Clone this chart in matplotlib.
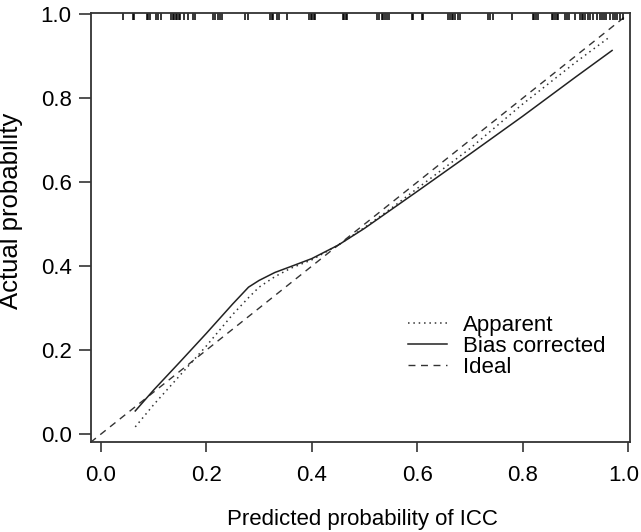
import matplotlib
matplotlib.use("Agg")
import matplotlib.pyplot as plt
import matplotlib.transforms as mtransforms

plt.rcParams['font.family'] = ['Liberation Sans', 'DejaVu Sans']

# apparent (dotted) calibration curve
app_x = [0.065, 0.10, 0.15, 0.20, 0.25, 0.28, 0.30, 0.33, 0.36, 0.40, 0.45, 0.50,
         0.55, 0.60, 0.70, 0.80, 0.90, 0.962]
app_y = [0.017, 0.07, 0.14, 0.21, 0.285, 0.325, 0.35, 0.375, 0.395, 0.415, 0.45, 0.492,
         0.537, 0.585, 0.68, 0.786, 0.885, 0.943]

# bias corrected (solid) curve
bc_x = [0.065, 0.10, 0.15, 0.20, 0.25, 0.28, 0.30, 0.33, 0.36, 0.40, 0.45, 0.50,
        0.55, 0.60, 0.70, 0.80, 0.90, 0.97]
bc_y = [0.055, 0.105, 0.172, 0.24, 0.31, 0.35, 0.366, 0.385, 0.399, 0.418, 0.45, 0.49,
        0.534, 0.578, 0.667, 0.757, 0.85, 0.914]

# ideal line
ideal = [-0.02, 1.0]

# rug of predicted probabilities (top of plot)
rug = [0.041, 0.061, 0.063, 0.087, 0.089, 0.093, 0.104, 0.108, 0.114,
       0.133, 0.136, 0.139, 0.142, 0.145, 0.148, 0.150, 0.157, 0.165, 0.175, 0.178,
       0.213, 0.216, 0.222, 0.226, 0.230, 0.273, 0.279, 0.321, 0.324, 0.326,
       0.334, 0.338, 0.353, 0.395, 0.398, 0.401, 0.404, 0.406,
       0.459, 0.461, 0.465, 0.467, 0.524, 0.527, 0.533, 0.535, 0.539, 0.543, 0.546,
       0.590, 0.592, 0.609, 0.611, 0.658, 0.662, 0.666, 0.668, 0.672, 0.677, 0.681,
       0.734, 0.738, 0.744, 0.780, 0.820, 0.822, 0.825, 0.829,
       0.856, 0.858, 0.861, 0.865, 0.867, 0.880, 0.884, 0.888, 0.899,
       0.909, 0.913, 0.915, 0.918, 0.924, 0.928, 0.934, 0.941, 0.947, 0.951,
       0.954, 0.958, 0.966, 0.972, 0.975, 0.979, 0.985, 0.991]

ticks = [0.0, 0.2, 0.4, 0.6, 0.8, 1.0]
tick_labels = ["0.0", "0.2", "0.4", "0.6", "0.8", "1.0"]

W, H = 641, 532
fig = plt.figure(figsize=(W / 100, H / 100), dpi=100)
ax = fig.add_axes([91 / W, 1 - 442 / H, (630 - 91) / W, (442 - 12.7) / H])

ax.plot(ideal, ideal, color='#333333', lw=1.0, ls=(0, (5, 4)), label='Ideal')
ax.plot(app_x, app_y, color='#333333', lw=1.1, ls=(0, (1, 2.5)), label='Apparent')
ax.plot(bc_x, bc_y, color='#222222', lw=1.1, ls='-', label='Bias corrected')

trans = mtransforms.blended_transform_factory(ax.transData, ax.transAxes)
ax.vlines(rug, 1 - 0.016, 1.0, transform=trans, color='black', lw=1.1)

ax.set_xlim(-0.019, 1.004)
ax.set_ylim(-0.019, 1.004)
ax.set_xticks(ticks)
ax.set_xticklabels(tick_labels)
ax.set_yticks(ticks)
ax.set_yticklabels(tick_labels)
ax.tick_params(axis='x', direction='out', length=7.5, width=1.2, colors='#333333',
               labelsize=16, labelcolor='black', pad=9)
ax.tick_params(axis='y', direction='out', length=9, width=1.2, colors='#333333',
               labelsize=16, labelcolor='black', pad=5)
for s in ax.spines.values():
    s.set_linewidth(1.3)
    s.set_color('#333333')

# keep the last x label inside the figure edge
last = ax.get_xticklabels()[-1]
last.set_transform(last.get_transform() + mtransforms.ScaledTranslation(-4 / 100, 0, fig.dpi_scale_trans))

fig.text(362 / W, 1 - 520 / H, "Predicted probability of ICC", ha='center', va='center', fontsize=16)
fig.text(11 / W, 1 - 211 / H, "Actual probability", ha='center', va='center', rotation=90, fontsize=18.5)

h, l = ax.get_legend_handles_labels()
order = [1, 2, 0]
ax.legend([h[i] for i in order], [l[i] for i in order], loc='upper left',
          bbox_to_anchor=((397 - 91) / (630 - 91), (442 - 304) / (442 - 12.7)),
          frameon=False, fontsize=16, handlelength=1.75, handletextpad=0.7,
          labelspacing=0.0, borderpad=0)

fig.savefig("out.png", dpi=100)
